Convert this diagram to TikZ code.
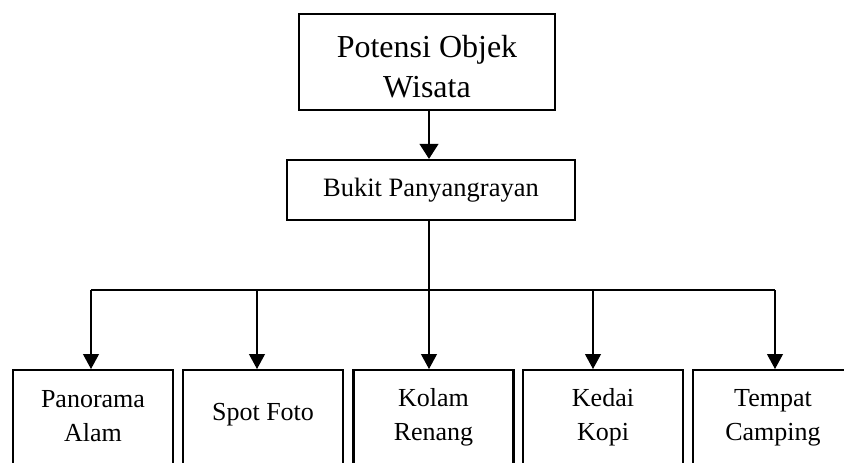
\documentclass[tikz,border=0pt]{standalone}
\usepackage{fontspec}
\setmainfont{Liberation Serif}
\usetikzlibrary{arrows.meta}
\begin{document}
\begin{tikzpicture}[x=1pt,y=-1pt,
  box/.style={draw,line width=2.3pt,rectangle,inner sep=0pt},
  lbl/.style={inner sep=0pt,align=center},
  conn/.style={line width=1.1pt},
  arr/.style={line width=1.1pt,-{Triangle[width=16pt,length=15pt]}}]
\useasboundingbox (0,0) rectangle (844,463);
\clip (0,0) rectangle (844,463);
% top box
\node[box,minimum width=256pt,minimum height=96pt] (top) at (427,62) {};
\node[lbl,font=\fontsize{32}{40}\selectfont] (toptxt) at (427,67) {Potensi Objek\\Wisata};
% second box
\node[box,minimum width=288pt,minimum height=60pt,font=\fontsize{26.5}{32}\selectfont] (bukit) at (431,190) {Bukit Panyangrayan};
\coordinate (cx) at (429,0);
\draw[line width=1.1pt,-{Triangle[width=19pt,length=15pt]}] (top.south -| cx) -- (bukit.north -| cx);
% bottom boxes
\foreach \n/\x in {b1/93,b2/263,b3/433.5,b4/603,b5/773}{
  \node[box,minimum width=160pt,minimum height=120pt,anchor=north] (\n) at (\x,369) {};
}
\begin{scope}[font=\fontsize{26}{34}\selectfont]
\node[lbl] (t1) at (93,416) {Panorama\\Alam};
\node[lbl] (t2) at (263,415) {Spot Foto};
\node[lbl] (t3) at (433.5,417.5) {Kolam\\Renang};
\node[lbl] (t4) at (603,417.5) {Kedai\\Kopi};
\node[lbl] (t5) at (773,417.5) {Tempat\\Camping};
\end{scope}
% connectors
\coordinate (h) at (0,290);
\coordinate (a1) at (91,0);
\coordinate (a2) at (257,0);
\coordinate (a3) at (429,0);
\coordinate (a4) at (593,0);
\coordinate (a5) at (775,0);
\draw[conn] (bukit.south -| a3) -- (h -| a3);
\draw[conn] (h -| a1) -- (h -| a5);
\foreach \i in {1,...,5}{
  \draw[arr] (h -| a\i) -- (b\i.north -| a\i);
}
\end{tikzpicture}
\end{document}
